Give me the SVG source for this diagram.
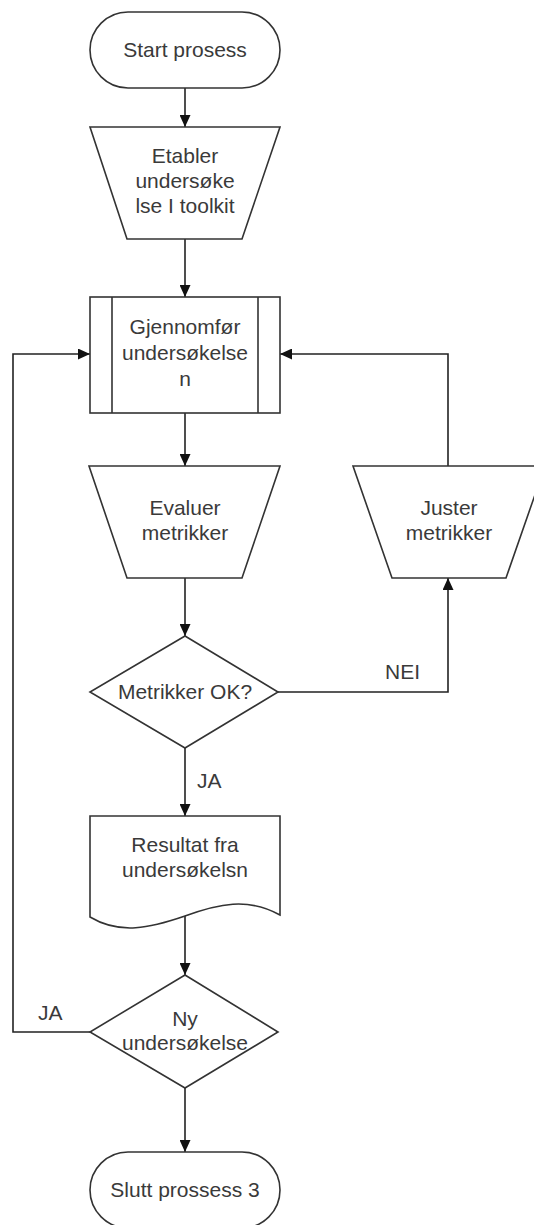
<svg xmlns="http://www.w3.org/2000/svg" width="534" height="1225" viewBox="0 0 534 1225">
<defs>
<marker id="arr" markerUnits="userSpaceOnUse" markerWidth="12" markerHeight="11" refX="12" refY="5.5" orient="auto">
<path d="M0,0 L12,5.5 L0,11 z" fill="#111"/>
</marker>
<style>
.s{fill:#fff;stroke:#333;stroke-width:1.6}
.c{fill:none;stroke:#222;stroke-width:1.6}
.t{font-family:"Liberation Sans",Arial,sans-serif;font-size:21px;fill:#3a3a3a;text-anchor:middle}
.l{font-family:"Liberation Sans",Arial,sans-serif;font-size:21px;fill:#3a3a3a}
</style>
</defs>
<rect width="534" height="1225" fill="#fff"/>
<g id="connectors">
<line class="c" x1="185" y1="88" x2="185" y2="127" marker-end="url(#arr)"/>
<line class="c" x1="185" y1="239" x2="185" y2="297" marker-end="url(#arr)"/>
<line class="c" x1="185" y1="413" x2="185" y2="466" marker-end="url(#arr)"/>
<line class="c" x1="185" y1="578" x2="185" y2="636" marker-end="url(#arr)"/>
<line class="c" x1="185" y1="748" x2="185" y2="816" marker-end="url(#arr)"/>
<polyline class="c" points="278,692 448,692 448,578" marker-end="url(#arr)"/>
<polyline class="c" points="448,466 448,354 280,354" marker-end="url(#arr)"/>
<line class="c" x1="185" y1="916" x2="185" y2="975" marker-end="url(#arr)"/>
<polyline class="c" points="90,1032 13,1032 13,354 90,354" marker-end="url(#arr)"/>
<line class="c" x1="185" y1="1088" x2="185" y2="1152" marker-end="url(#arr)"/>
<text class="l" x="385" y="679">NEI</text>
<text class="l" x="197" y="788">JA</text>
<text class="l" x="38" y="1020">JA</text>
</g>
<g id="start">
<rect class="s" x="90" y="12" width="190" height="76" rx="38" ry="38"/>
<text class="t" x="185" y="57">Start prosess</text>
</g>
<g id="etabler">
<polygon class="s" points="90,127 280,127 242,239 127,239"/>
<text class="t" x="185" y="163">Etabler</text>
<text class="t" x="185" y="188">undersøke</text>
<text class="t" x="185" y="213">lse I toolkit</text>
</g>
<g id="gjennomfor">
<rect class="s" x="90" y="297" width="190" height="116"/>
<line class="s" x1="112" y1="297" x2="112" y2="413"/>
<line class="s" x1="258" y1="297" x2="258" y2="413"/>
<text class="t" x="185" y="334">Gjennomfør</text>
<text class="t" x="185" y="360">undersøkelse</text>
<text class="t" x="185" y="386">n</text>
</g>
<g id="evaluer">
<polygon class="s" points="89,466 280,466 242,578 127,578"/>
<text class="t" x="185" y="515">Evaluer</text>
<text class="t" x="185" y="540">metrikker</text>
</g>
<g id="juster">
<polygon class="s" points="353,466 545,466 506,578 392,578"/>
<text class="t" x="449" y="515">Juster</text>
<text class="t" x="449" y="540">metrikker</text>
</g>
<g id="metrikker-ok">
<polygon class="s" points="185,636 278,692 185,748 90,692"/>
<text class="t" x="185" y="699">Metrikker OK?</text>
</g>
<g id="resultat">
<path class="s" d="M90,816 L280,816 L280,915 C248,897 218,904 185,916 C150,928 120,935 90,917 Z"/>
<text class="t" x="185" y="852">Resultat fra</text>
<text class="t" x="185" y="877">undersøkelsn</text>
</g>
<g id="ny-undersokelse">
<polygon class="s" points="185,975 278,1032 185,1088 90,1032"/>
<text class="t" x="185" y="1026">Ny</text>
<text class="t" x="185" y="1050">undersøkelse</text>
</g>
<g id="slutt">
<rect class="s" x="90" y="1152" width="190" height="76" rx="38" ry="38"/>
<text class="t" x="185" y="1197">Slutt prossess 3</text>
</g>
</svg>
